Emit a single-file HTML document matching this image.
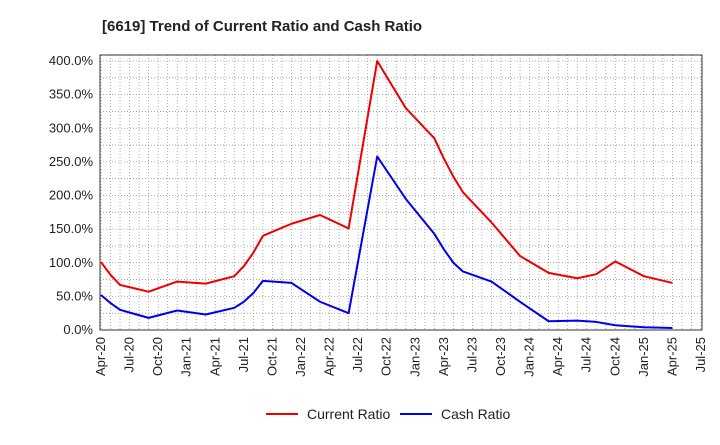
<!DOCTYPE html>
<html><head><meta charset="utf-8"><style>
body{margin:0;background:#fff;font-family:"Liberation Sans",sans-serif}
</style></head><body>
<svg id="chart" width="720" height="440" xmlns="http://www.w3.org/2000/svg">
<text x="102" y="31" font-size="15" font-weight="bold" fill="#222" font-family="Liberation Sans, sans-serif">[6619]  Trend of Current Ratio and Cash Ratio</text>
<g id="grid"></g><g id="axes"></g><g id="series"></g>
<g>
<line x1="266" y1="414" x2="298" y2="414" stroke="#e00" stroke-width="2"/>
<text x="307" y="419" font-size="14" fill="#222">Current Ratio</text>
<line x1="400" y1="414" x2="432" y2="414" stroke="#00e" stroke-width="2"/>
<text x="441" y="419" font-size="14" fill="#222">Cash Ratio</text>
</g>
</svg>
<script>
const xTickLabels=["Apr-20","Jul-20","Oct-20","Jan-21","Apr-21","Jul-21","Oct-21","Jan-22","Apr-22","Jul-22","Oct-22","Jan-23","Apr-23","Jul-23","Oct-23","Jan-24","Apr-24","Jul-24","Oct-24","Jan-25","Apr-25","Jul-25"];
const yTicks=[0,50,100,150,200,250,300,350,400];
const months=[0,1,2,5,8,11,14,15,16,17,20,23,26,29,32,35,36,37,38,41,44,47,50,52,54,57,60];
const currentRatio=[101,82,67,57,72,69,80,95,115,140,158,171,151,400,330,285,255,228,205,160,110,85,77,83,102,80,70];
const cashRatio=[52,40,30,18,29,23,33,42,55,73,70,42,25,258,195,143,120,100,87,72,42,13,14,12,7,4,3];
const ns="http://www.w3.org/2000/svg";
const X0=101,X1=701,Y0=330,Y1=61,L=100,R=702,T=55;
const xs=m=>X0+(X1-X0)*m/63;
const ys=v=>Y0-(Y0-Y1)*v/400;
function mk(tag,attrs,parent){const e=document.createElementNS(ns,tag);for(const k in attrs)e.setAttribute(k,attrs[k]);parent.appendChild(e);return e;}
const grid=document.getElementById('grid'),axes=document.getElementById('axes'),ser=document.getElementById('series');
for(let m=0;m<=63;m++){const l=mk('line',{x1:xs(m),x2:xs(m),y1:T,y2:Y0,stroke:'#999','stroke-width':0.8,'stroke-dasharray':'1,2'},grid);

}
for(let v=0;v<=400;v+=25){const l=mk('line',{x1:L,x2:R,y1:ys(v),y2:ys(v),stroke:'#999','stroke-width':0.8,'stroke-dasharray':'1,2'},grid);

}
const frame=mk('rect',{x:L,y:T,width:R-L,height:Y0-T,fill:'none',stroke:'#333','stroke-width':1},axes);


yTicks.forEach(v=>{const t=mk('text',{x:L-7,y:ys(v)+4,'text-anchor':'end','font-size':13,fill:'#222'},axes);t.textContent=v.toFixed(1)+'%';

});
xTickLabels.forEach((s,i)=>{const x=xs(i*3);const t=mk('text',{x:x+4,y:Y0+7,'text-anchor':'end','font-size':13,fill:'#222',transform:`rotate(-90 ${x+4} ${Y0+7})`},axes);t.textContent=s;

});
function line(vals,color,name){const p=mk('polyline',{points:months.map((m,i)=>xs(m)+','+ys(vals[i])).join(' '),fill:'none',stroke:color,'stroke-width':2,'stroke-linejoin':'round'},ser);

}
line(cashRatio,'#00e','cash-ratio-line');
line(currentRatio,'#e00','current-ratio-line');
</script>
</body></html>
